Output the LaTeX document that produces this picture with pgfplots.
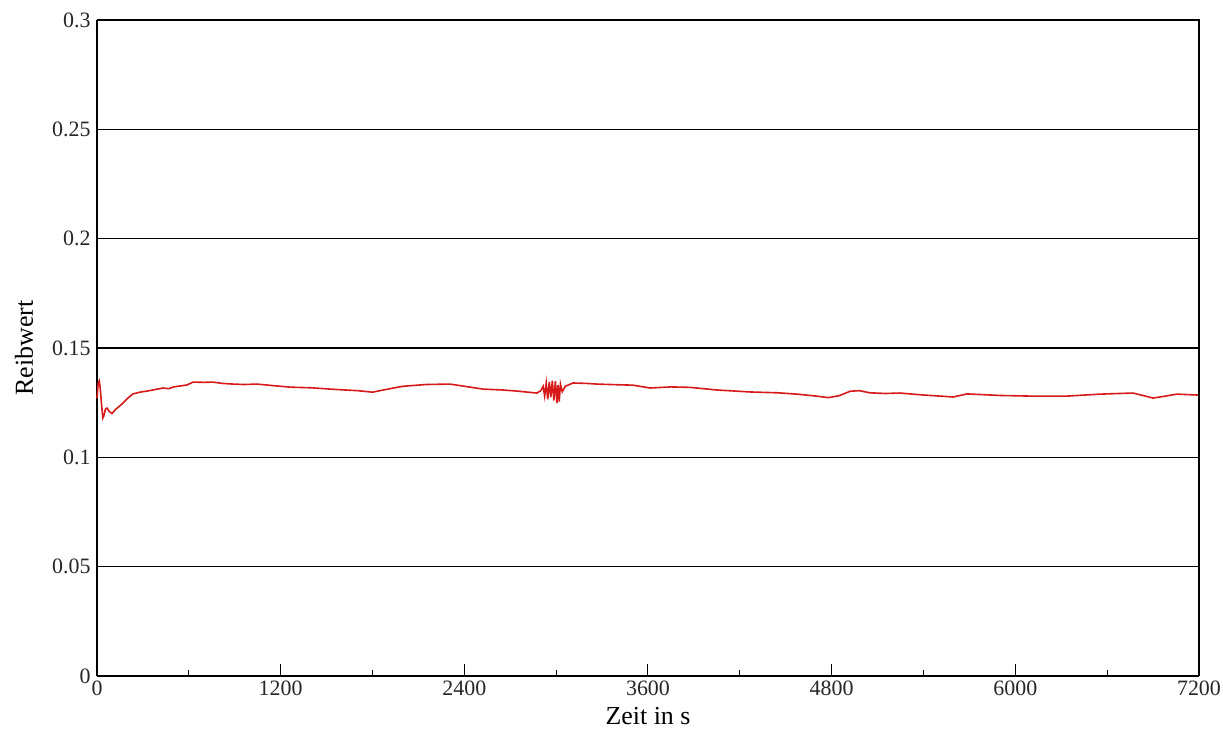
\documentclass[border=0pt]{standalone}
\usepackage{fontspec}
\setmainfont{Liberation Serif}
\usepackage{pgfplots}
\pgfplotsset{compat=1.18}
\definecolor{curve}{RGB}{215,25,25}
\begin{document}
\begin{tikzpicture}[x=1bp,y=1bp]
\begin{axis}[
  at={(0,0)}, anchor=south west,
  scale only axis, width=1102bp, height=656bp,
  xmin=0, xmax=7200, ymin=0, ymax=0.3,
  xtick={0,1200,...,7200},
  minor xtick={600,1800,...,6600},
  ytick={0,0.05,...,0.3},
  yticklabels={0,0.05,0.1,0.15,0.2,0.25,0.3},
  scaled y ticks=false,
  /pgf/number format/assume math mode=true,
  /pgf/number format/1000 sep={},
  ymajorgrids, major grid style={black, line width=1.2bp},
  axis x line*=bottom, axis y line*=left,
  axis line style={black, line width=2.6bp, -},
  xtick pos=bottom, ytick style={draw=none},
  major x tick style={black, line width=1bp},
  minor x tick style={black, line width=1bp},
  major tick length=12bp, minor tick length=6bp,
  tick align=inside,
  tick label style={font=\fontsize{22}{26}\selectfont, text=black!85},
  yticklabel style={xshift=-3bp},
  xticklabel style={yshift=-1bp},
  xlabel={Zeit in s}, ylabel={Reibwert},
  label style={font=\fontsize{26}{30}\selectfont},
  xlabel style={at={(rel axis cs:0.5,0)}, anchor=center, yshift=-40bp},
  ylabel style={at={(rel axis cs:0,0.5)}, anchor=center, yshift=73bp},
  clip=false,
]
\addplot[curve, line width=1.6bp] table {
0 0.127
8 0.134
15 0.135
22 0.131
30 0.124
38 0.118
45 0.119
55 0.122
65 0.1225
80 0.121
98 0.120
118 0.1217
140 0.123
170 0.1248
200 0.127
235 0.1290
280 0.1298
327 0.1303
380 0.131
431 0.1317
470 0.1314
500 0.1322
560 0.1328
588 0.1331
627 0.1344
700 0.1343
758 0.1344
820 0.1338
889 0.1335
960 0.1333
1045 0.1335
1150 0.1328
1261 0.1321
1400 0.1318
1568 0.131
1700 0.1305
1800 0.1298
1900 0.1312
2000 0.1325
2150 0.1333
2306 0.1335
2400 0.1325
2522 0.1312
2650 0.1308
2744 0.1303
2874 0.1294
2900 0.1305
2915 0.1325
2925 0.128
2935 0.134
2945 0.1265
2955 0.1345
2965 0.1275
2975 0.135
2985 0.126
2995 0.1348
3005 0.1248
3012 0.133
3020 0.1255
3028 0.1335
3040 0.130
3060 0.1325
3110 0.134
3200 0.1338
3267 0.1335
3400 0.1332
3502 0.133
3613 0.1317
3750 0.1322
3874 0.132
4050 0.1308
4266 0.1299
4450 0.1295
4573 0.1289
4700 0.1280
4780 0.1273
4850 0.1282
4920 0.1302
4980 0.1305
5050 0.1295
5150 0.1292
5246 0.1294
5400 0.1285
5594 0.1276
5684 0.1290
5900 0.1283
6100 0.128
6338 0.128
6553 0.1289
6769 0.1294
6850 0.128
6900 0.1271
6980 0.128
7056 0.1289
7187 0.1285
7200 0.1286
};
\draw[black, line width=1.3bp] (rel axis cs:0,1) -- (rel axis cs:1,1) -- (rel axis cs:1,0);
\end{axis}
\pgfresetboundingbox
\path[use as bounding box] (-97bp,-55bp) rectangle (1126bp,676bp);
\end{tikzpicture}
\end{document}
